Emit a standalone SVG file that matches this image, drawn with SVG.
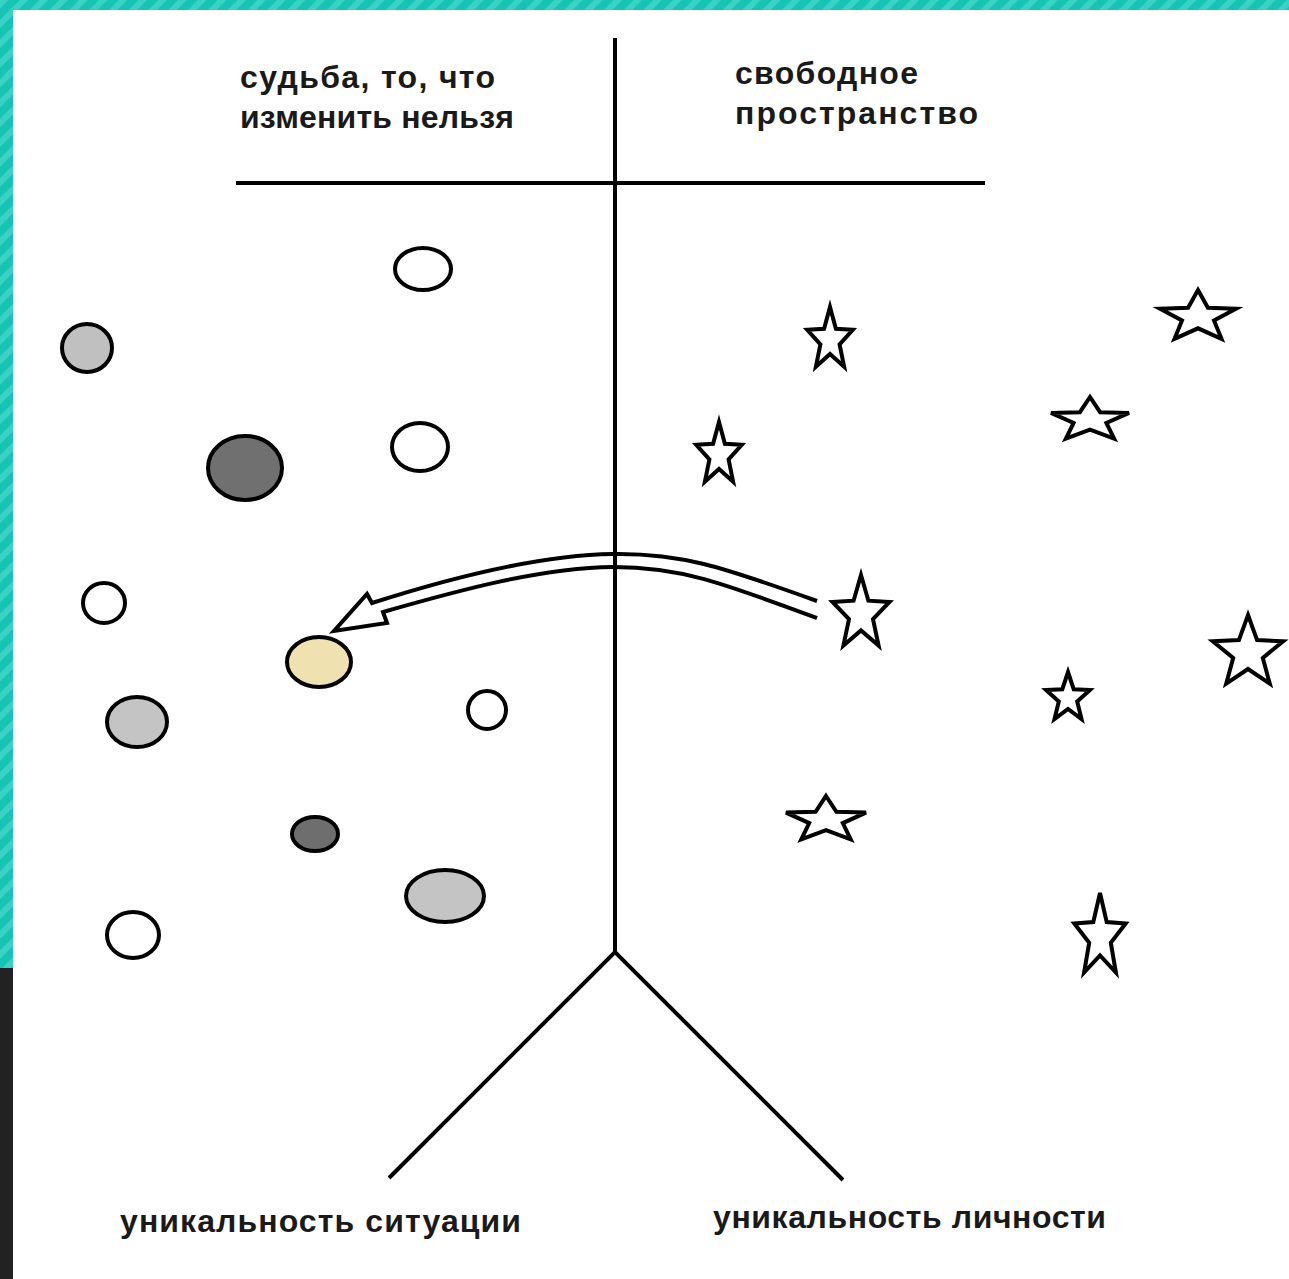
<svg xmlns="http://www.w3.org/2000/svg" width="1289" height="1279" viewBox="0 0 1289 1279">
  <defs>
    <pattern id="stripes" patternUnits="userSpaceOnUse" width="14" height="14" patternTransform="rotate(45)">
      <rect width="14" height="14" fill="#16c4b6"/>
      <rect width="6" height="14" fill="#3ad2c5"/>
    </pattern>
    <style>
      .ln { stroke:#000; stroke-width:4; fill:none; }
      .el { stroke:#000; stroke-width:4; }
      .st { fill:#fff; stroke:#000; stroke-width:4; stroke-linejoin:miter; }
      .tx { font-family:"Liberation Sans", Arial, sans-serif; font-weight:bold; font-size:32px; fill:#1a1a1a; }
    </style>
  </defs>

  <rect width="1289" height="1279" fill="#fff"/>
  <rect x="0" y="0" width="1289" height="10" fill="url(#stripes)"/>
  <rect x="0" y="0" width="13" height="968" fill="url(#stripes)"/>
  <rect x="0" y="968" width="13" height="311" fill="#222"/>

  <g id="connectors">
    <line class="ln" x1="615" y1="38" x2="615" y2="952"/>
    <line class="ln" x1="236" y1="183" x2="985" y2="183"/>
    <polyline class="ln" points="389,1178 615,952 843,1180"/>
    <path class="ln" stroke-linejoin="miter" d="M817,601 C720,566 680,553 613,554 C540,555 450,578 372,603 L367,594 L334,631 L387,623 L383,612 C460,590 540,568 613,567 C680,567 720,582 817,618"/>
  </g>

  <g id="labels">
    <text class="tx" x="240" y="88" textLength="255">судьба, то, что</text>
    <text class="tx" x="240" y="128" textLength="274">изменить нельзя</text>
    <text class="tx" x="735" y="84" textLength="183">свободное</text>
    <text class="tx" x="735" y="124" textLength="243">пространство</text>
    <text class="tx" x="120" y="1232" textLength="401">уникальность ситуации</text>
    <text class="tx" x="713" y="1228" textLength="393">уникальность личности</text>
  </g>

  <g id="circles">
    <ellipse id="c1" class="el" cx="423" cy="269" rx="28" ry="21" fill="#fff"/>
    <ellipse id="c2" class="el" cx="87" cy="348" rx="25" ry="24" fill="#c0c0c0"/>
    <ellipse id="c3" class="el" cx="245" cy="468" rx="37" ry="32" fill="#707070"/>
    <ellipse id="c4" class="el" cx="420" cy="447" rx="28" ry="24" fill="#fff"/>
    <ellipse id="c5" class="el" cx="104" cy="603" rx="21" ry="20" fill="#fff"/>
    <ellipse id="c6" class="el" cx="319" cy="662" rx="32" ry="25" fill="#f0e2b0"/>
    <ellipse id="c7" class="el" cx="137" cy="722" rx="30" ry="25" fill="#c4c4c4"/>
    <ellipse id="c8" class="el" cx="487" cy="710" rx="19" ry="19" fill="#fff"/>
    <ellipse id="c9" class="el" cx="315" cy="834" rx="23" ry="17" fill="#6e6e6e"/>
    <ellipse id="c10" class="el" cx="445" cy="896" rx="39" ry="26" fill="#c4c4c4"/>
    <ellipse id="c11" class="el" cx="133" cy="935" rx="26" ry="23" fill="#fff"/>
  </g>

  <g id="stars">
    <polygon id="s1" class="st" points="830,307 835.9,328.8 852.8,329.8 839.6,344.3 844.1,366.7 830,353.9 815.9,366.7 820.4,344.3 807.2,329.8 824.1,328.8"/>
    <polygon id="s2" class="st" points="1198,290 1207.9,307.8 1236,308.7 1214,320.5 1221.5,338.8 1198,328.3 1174.5,338.8 1182,320.5 1160,308.7 1188.1,307.8"/>
    <polygon id="s3" class="st" points="1090,397 1100.1,412.2 1129,412.9 1106.4,423 1114.1,438.6 1090,429.7 1065.9,438.6 1073.6,423 1051,412.9 1079.9,412.2"/>
    <polygon id="s4" class="st" points="719,422 724.9,443.8 741.8,444.8 728.6,459.3 733.1,481.7 719,468.9 704.9,481.7 709.4,459.3 696.2,444.8 713.1,443.8"/>
    <polygon id="s5" class="st" points="861,575 868.4,600.7 889.5,602 873,619.1 878.6,645.6 861,630.4 843.4,645.6 849,619.1 832.5,602 853.6,600.7"/>
    <polygon id="s6" class="st" points="1248,615 1257.1,640.1 1283.2,641.3 1262.8,657.9 1269.8,683.7 1248,669 1226.2,683.7 1233.2,657.9 1212.8,641.3 1238.9,640.1"/>
    <polygon id="s7" class="st" points="1068,672 1073.7,689.2 1089.9,690 1077.2,701.4 1081.5,719 1068,708.9 1054.5,719 1058.8,701.4 1046.1,690 1062.3,689.2"/>
    <polygon id="s8" class="st" points="826,796 836.4,811.8 866,812.6 842.8,823.1 850.7,839.4 826,830.1 801.3,839.4 809.2,823.1 786,812.6 815.6,811.8"/>
    <polygon id="s9" class="st" points="1100,893 1106.7,922 1125.7,923.4 1110.8,942.7 1115.9,972.6 1100,955.5 1084.1,972.6 1089.2,942.7 1074.3,923.4 1093.3,922"/>
  </g>
</svg>
